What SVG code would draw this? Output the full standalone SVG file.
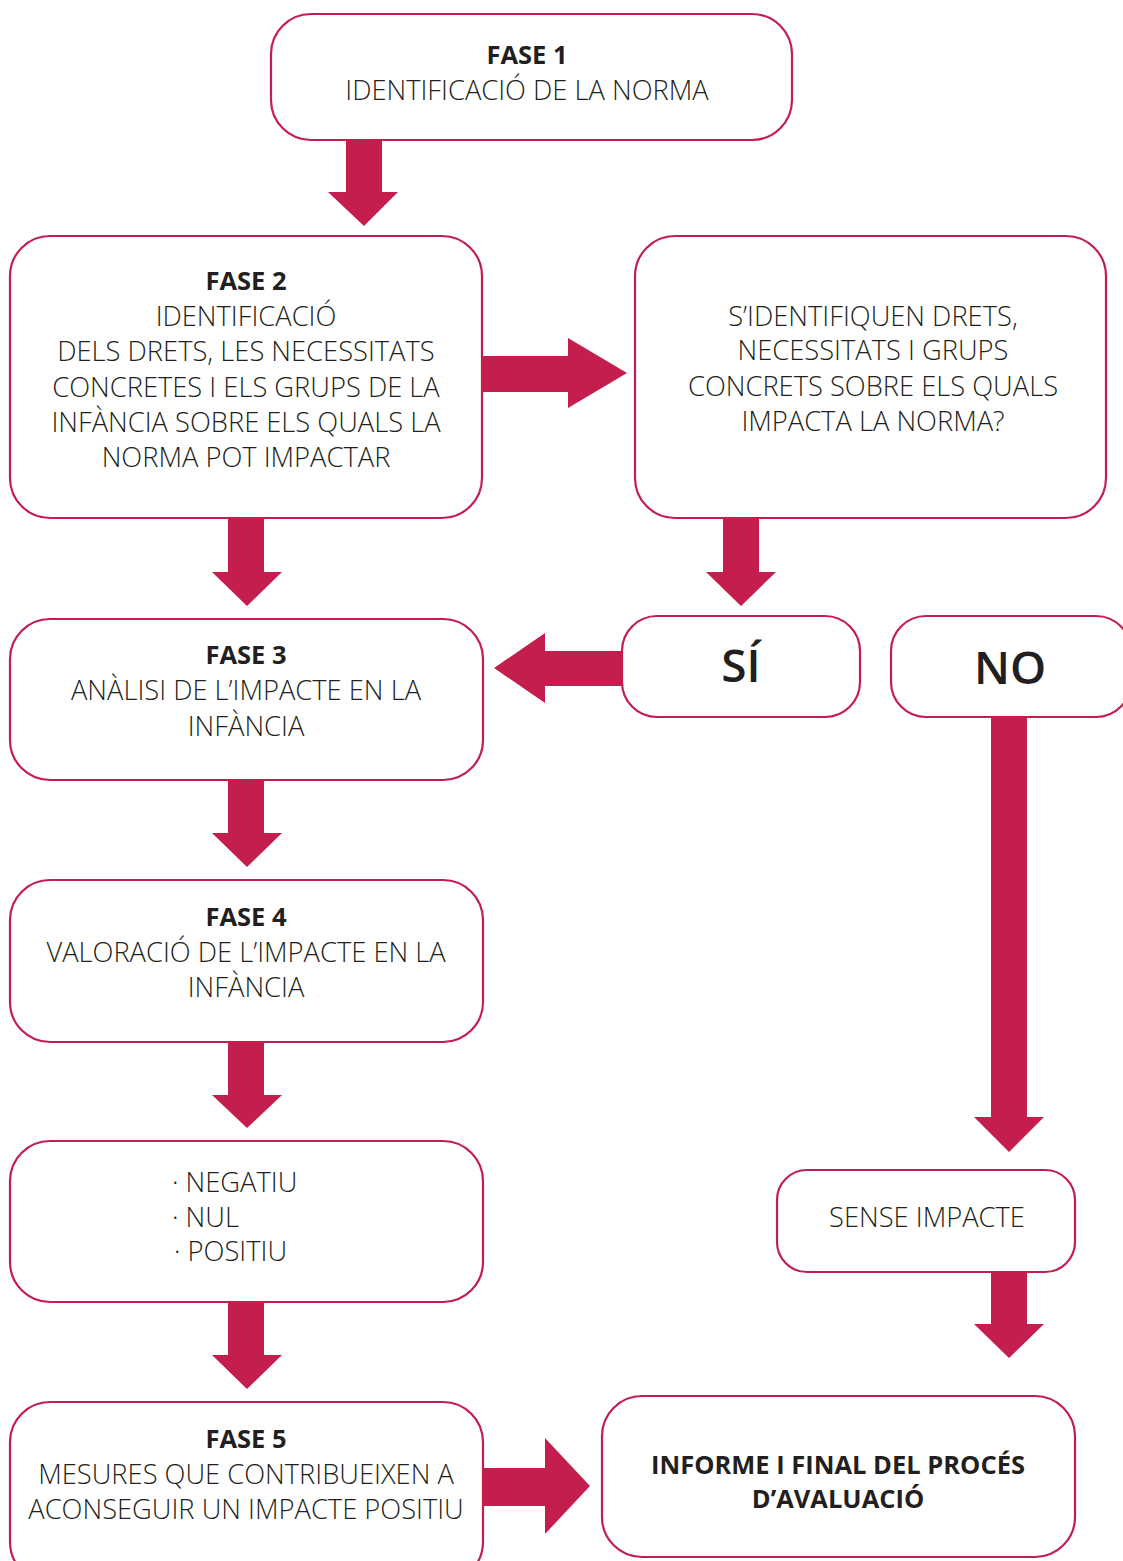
<svg xmlns="http://www.w3.org/2000/svg" width="1123" height="1561" viewBox="0 0 1123 1561">
<style>
.box{fill:#fff;stroke:#C41E4F;stroke-width:2.2}
.arr{fill:#C41E4F}
text{font-family:"Open Sans","Liberation Sans",sans-serif;font-size:27.3px;fill:#231f20;text-anchor:middle;font-weight:300}
.b{font-weight:700;font-size:25.5px}
.big{font-size:46px;font-weight:600}
</style>
<rect width="1123" height="1561" fill="#fff"/>
<g id="connectors">
<polygon class="arr" points="346,141 382,141 382,192 398,192 364,226 328,192 346,192"/>
<polygon class="arr" points="482,356 568,356 568,338 627,373 568,408 568,392 482,392"/>
<polygon class="arr" points="228,519 264,519 264,572 282,572 247,606 212,572 228,572"/>
<polygon class="arr" points="723,519 759,519 759,572 776,572 741,606 706,572 723,572"/>
<polygon class="arr" points="622,651 622,686 545,686 545,703 494,668 545,633 545,651"/>
<polygon class="arr" points="228,781 264,781 264,833 282,833 247,867 212,833 228,833"/>
<polygon class="arr" points="228,1043 264,1043 264,1095 282,1095 247,1128 212,1095 228,1095"/>
<polygon class="arr" points="228,1303 264,1303 264,1355 282,1355 247,1389 212,1355 228,1355"/>
<polygon class="arr" points="483,1468 545,1468 545,1438 590,1486 545,1534 545,1506 483,1506"/>
<polygon class="arr" points="991,718 1027,718 1027,1117 1044,1117 1009,1152 974,1117 991,1117"/>
<polygon class="arr" points="991,1273 1027,1273 1027,1324 1044,1324 1009,1358 974,1324 991,1324"/>
</g>
<g id="fase1">
<rect class="box" x="271" y="14" width="521" height="126" rx="40"/>
<text x="527" y="64" class="b">FASE 1</text>
<text x="527" y="100">IDENTIFICACIÓ DE LA NORMA</text>
</g>
<g id="fase2">
<rect class="box" x="10" y="236" width="472" height="282" rx="40"/>
<text x="246" y="290" class="b">FASE 2</text>
<text x="246" y="326">IDENTIFICACIÓ</text>
<text x="246" y="361">DELS DRETS, LES NECESSITATS</text>
<text x="246" y="397">CONCRETES I ELS GRUPS DE LA</text>
<text x="246" y="432">INFÀNCIA SOBRE ELS QUALS LA</text>
<text x="246" y="467">NORMA POT IMPACTAR</text>
</g>
<g id="pregunta">
<rect class="box" x="635" y="236" width="471" height="282" rx="40"/>
<text x="873" y="326">S’IDENTIFIQUEN DRETS,</text>
<text x="873" y="360">NECESSITATS I GRUPS</text>
<text x="873" y="396">CONCRETS SOBRE ELS QUALS</text>
<text x="873" y="431">IMPACTA LA NORMA?</text>
</g>
<g id="si">
<rect class="box" x="622" y="616" width="238" height="101" rx="35"/>
<text x="741" y="682" class="big">SÍ</text>
</g>
<g id="no">
<rect class="box" x="891" y="616" width="240" height="101" rx="35"/>
<text x="1010" y="684" class="big">NO</text>
</g>
<g id="fase3">
<rect class="box" x="10" y="619" width="473" height="161" rx="40"/>
<text x="246" y="664" class="b">FASE 3</text>
<text x="246" y="700">ANÀLISI DE L’IMPACTE EN LA</text>
<text x="246" y="736">INFÀNCIA</text>
</g>
<g id="fase4">
<rect class="box" x="10" y="880" width="473" height="162" rx="40"/>
<text x="246" y="926" class="b">FASE 4</text>
<text x="246" y="962">VALORACIÓ DE L’IMPACTE EN LA</text>
<text x="246" y="997">INFÀNCIA</text>
</g>
<g id="resultats">
<rect class="box" x="10" y="1141" width="473" height="161" rx="40"/>
<text x="172" y="1192" style="text-anchor:start">· NEGATIU</text>
<text x="172" y="1227" style="text-anchor:start">· NUL</text>
<text x="174" y="1261" style="text-anchor:start">· POSITIU</text>
</g>
<g id="sense">
<rect class="box" x="777" y="1170" width="298" height="102" rx="30"/>
<text x="927" y="1227">SENSE IMPACTE</text>
</g>
<g id="fase5">
<rect class="box" x="10" y="1402" width="473" height="180" rx="40"/>
<text x="246" y="1448" class="b">FASE 5</text>
<text x="246" y="1484">MESURES QUE CONTRIBUEIXEN A</text>
<text x="246" y="1519">ACONSEGUIR UN IMPACTE POSITIU</text>
</g>
<g id="informe">
<rect class="box" x="602" y="1396" width="473" height="161" rx="40"/>
<text x="838" y="1474" class="b">INFORME I FINAL DEL PROCÉS</text>
<text x="838" y="1508" class="b">D’AVALUACIÓ</text>
</g>
</svg>
